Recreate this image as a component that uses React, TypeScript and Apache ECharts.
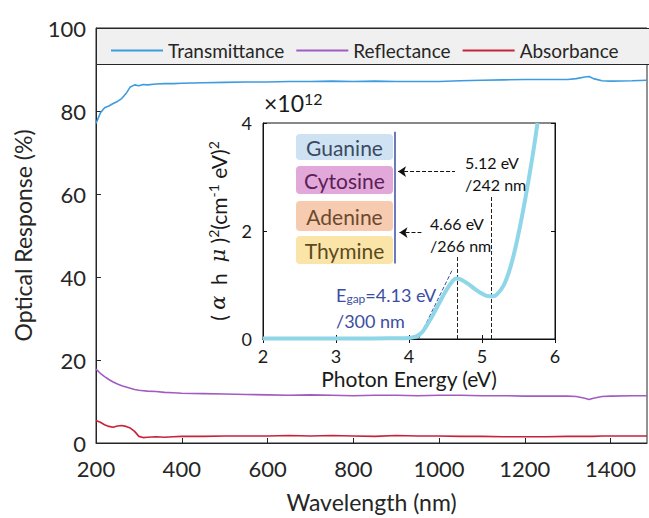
import React, { useEffect, useRef } from "react";
import * as echarts from "echarts";

// ---- Main chart data (wavelength in nm, responses in %) ----
const wavelength = [
  200, 210, 220, 230, 240, 250, 260, 270, 280, 290, 300, 310, 320, 340, 360, 380, 400,
  450, 500, 550, 600, 650, 700, 750, 800, 850, 900, 950, 1000, 1050, 1100, 1150, 1200,
  1250, 1300, 1320, 1340, 1350, 1360, 1380, 1400, 1450, 1485,
];
const transmittance = [
  77.0, 79.5, 80.8, 81.2, 81.8, 82.3, 83.0, 84.2, 85.8, 86.3, 86.1, 86.4, 86.3, 86.5, 86.6, 86.6, 86.7,
  86.8, 86.9, 87.0, 87.0, 87.1, 87.1, 87.2, 87.1, 87.2, 87.1, 87.1, 87.1, 87.3, 87.4, 87.5, 87.6,
  87.6, 87.6, 87.8, 88.2, 88.3, 87.8, 87.3, 87.2, 87.3, 87.4,
];
const reflectance = [
  17.8, 16.8, 16.0, 15.3, 14.7, 14.2, 13.8, 13.5, 13.2, 12.9, 12.7, 12.6, 12.5, 12.4, 12.2, 12.1, 12.0,
  11.9, 11.8, 11.7, 11.6, 11.5, 11.6, 11.5, 11.4, 11.5, 11.5, 11.4, 11.5, 11.5, 11.4, 11.4, 11.3,
  11.3, 11.3, 11.2, 10.8, 10.5, 10.8, 11.2, 11.3, 11.4, 11.4,
];
const absorbance = [
  5.4, 5.0, 4.4, 4.0, 3.8, 4.1, 4.2, 4.0, 3.6, 2.8, 1.6, 1.3, 1.4, 1.5, 1.4, 1.5, 1.6,
  1.6, 1.7, 1.7, 1.7, 1.8, 1.7, 1.8, 1.7, 1.6, 1.8, 1.7, 1.7, 1.6, 1.6, 1.5, 1.5,
  1.5, 1.6, 1.6, 1.6, 1.6, 1.6, 1.7, 1.7, 1.7, 1.7,
];

// ---- Inset (Tauc plot) data: photon energy (eV) vs (αhν)^2 in units of 1e12 ----
const energy = [
  2.0, 2.5, 3.0, 3.5, 3.8, 4.0, 4.05, 4.1, 4.15, 4.2, 4.3, 4.4, 4.5, 4.6, 4.65, 4.7,
  4.8, 4.9, 5.0, 5.1, 5.15, 5.2, 5.3, 5.4, 5.5, 5.6, 5.7, 5.76,
];
const tauc = [
  0.01, 0.01, 0.01, 0.01, 0.015, 0.02, 0.03, 0.05, 0.09, 0.16, 0.38, 0.63, 0.88, 1.08, 1.12, 1.11,
  1.03, 0.93, 0.84, 0.79, 0.79, 0.82, 1.0, 1.38, 1.95, 2.65, 3.45, 4.0,
];

const seriesNames = ["Transmittance", "Reflectance", "Absorbance"];
const seriesColors = ["#3d9be0", "#a15cc2", "#c8223a"];
const bases = ["Guanine", "Cytosine", "Adenine", "Thymine"];
const baseFills = ["#cfe2f3", "#e2a8da", "#f7cbb0", "#fbe4a8"];
const baseText = ["#3b4a5f", "#5b2056", "#6b4a2f", "#5a4a1e"];
const baseTops = [134, 166, 201, 236];
const baseHeights = [26, 28, 30, 28];

const FONT = "Lato";
const AX = "#262626";

export default function App() {
  const ref = useRef<HTMLDivElement>(null);
  useEffect(() => {
    if (!ref.current) return;
    const chart = echarts.init(ref.current, undefined, { renderer: "svg" });
    const pairs = (ys: number[]) => wavelength.map((w, i) => [w, ys[i]]);
    const mainData = [transmittance, reflectance, absorbance];
    const plain = (v: number) => String(v);

    const graphics: any[] = [
      {
        type: "rect",
        z: 1,
        shape: { x: 96.5, y: 28.5, width: 600, height: 36 },
        style: { fill: "#f0f0f0", stroke: AX, lineWidth: 1 },
      },
      {
        type: "text",
        z: 10,
        x: 264,
        y: 90,
        style: {
          text: "{a|×10}{b|12}",
          rich: {
            a: { fontSize: 23, fontFamily: FONT, fill: "#1a1a1a", lineHeight: 26 },
            b: { fontSize: 16, fontFamily: FONT, fill: "#1a1a1a", verticalAlign: "top" },
          },
        },
      },
    ];
    bases.forEach((b, i) => {
      graphics.push({
        type: "rect",
        z: 10,
        shape: { x: 296, y: baseTops[i], width: 97, height: baseHeights[i], r: 4 },
        style: { fill: baseFills[i] },
      });
      graphics.push({
        type: "text",
        z: 11,
        x: 344.5,
        y: baseTops[i] + baseHeights[i] / 2,
        style: {
          text: b,
          fontSize: 21,
          fontFamily: FONT,
          fill: baseText[i],
          align: "center",
          verticalAlign: "middle",
        },
      });
    });
    const ann = (text: string, x: number, y: number, size = 16, fill = "#111") => ({
      type: "text",
      z: 11,
      x,
      y,
      style: { text, fontSize: size, fontFamily: FONT, fill, verticalAlign: "middle" },
    });
    graphics.push(ann("5.12 eV", 465, 162));
    graphics.push(ann("/242 nm", 465, 184));
    graphics.push(ann("4.66 eV", 430, 223));
    graphics.push(ann("/266 nm", 430, 245));
    graphics.push({
      type: "text",
      z: 11,
      x: 336,
      y: 286,
      style: {
        text: "{a|E}{s|gap}{a|=4.13 eV}",
        rich: {
          a: { fontSize: 18, fontFamily: FONT, fill: "#3b4ea3" },
          s: { fontSize: 12, fontFamily: FONT, fill: "#3b4ea3", verticalAlign: "bottom" },
        },
      },
    });
    graphics.push(ann("/300 nm", 336, 321, 18, "#3b4ea3"));

    const dashed = (x1: number, y1: number, x2: number, y2: number, color: string, startSym = "none") => [
      { coord: [x1, y1], symbol: startSym, symbolSize: 8, lineStyle: { color, type: "dashed", width: 1 } },
      { coord: [x2, y2], symbol: "none" },
    ];

    const option: any = {
      animation: false,
      textStyle: { fontFamily: FONT },
      grid: [
        { left: 96, top: 28, right: 2, bottom: 73, show: true, borderColor: AX, borderWidth: 1 },
        { left: 263, top: 123, right: 94, bottom: 179, show: true, borderColor: "#111", borderWidth: 1, backgroundColor: "#fff", z: 3 },
      ],
      legend: {
        data: seriesNames,
        left: 106,
        top: 36,
        z: 5,
        icon: "rect",
        itemWidth: 52,
        itemHeight: 2,
        itemGap: 12,
        textStyle: { fontSize: 19, color: AX, fontFamily: FONT },
      },
      xAxis: [
        {
          gridIndex: 0,
          type: "value",
          min: 200,
          max: 1485,
          interval: 200,
          axisLine: { lineStyle: { color: AX } },
          axisTick: { inside: true, length: 5, lineStyle: { color: AX } },
          axisLabel: { fontSize: 22, color: AX, margin: 14, showMaxLabel: false, formatter: plain },
          splitLine: { show: false },
          name: "Wavelength (nm)",
          nameLocation: "middle",
          nameGap: 47,
          nameTextStyle: { fontSize: 23, color: AX },
        },
        {
          gridIndex: 1,
          type: "value",
          min: 2,
          max: 6,
          interval: 1,
          axisLine: { lineStyle: { color: "#111" } },
          axisTick: { inside: true, length: 4, lineStyle: { color: "#111" } },
          axisLabel: { fontSize: 18, color: "#1a1a1a", margin: 8, formatter: plain },
          splitLine: { show: false },
          name: "Photon Energy (eV)",
          nameLocation: "middle",
          nameGap: 29,
          nameTextStyle: { fontSize: 21, color: "#1a1a1a", lineHeight: 20 },
          z: 4,
        },
        {
          gridIndex: 1,
          type: "value",
          position: "top",
          min: 2,
          max: 6,
          interval: 1,
          axisLine: { lineStyle: { color: "#111" } },
          axisTick: { inside: true, length: 4, lineStyle: { color: "#111" } },
          axisLabel: { show: false },
          splitLine: { show: false },
          z: 4,
        },
      ],
      yAxis: [
        {
          gridIndex: 0,
          type: "value",
          min: 0,
          max: 100,
          interval: 20,
          axisLine: { show: true, lineStyle: { color: AX } },
          axisTick: { show: true, inside: true, length: 5, lineStyle: { color: AX } },
          axisLabel: { fontSize: 22, color: AX, margin: 10 },
          splitLine: { show: false },
          name: "Optical Response (%)",
          nameLocation: "middle",
          nameGap: 62,
          nameRotate: 90,
          nameTextStyle: { fontSize: 23, color: AX },
        },
        {
          gridIndex: 1,
          type: "value",
          min: 0,
          max: 4,
          interval: 2,
          axisLine: { show: true, lineStyle: { color: "#111" } },
          axisTick: { show: true, inside: true, length: 4, lineStyle: { color: "#111" } },
          axisLabel: { fontSize: 18, color: "#1a1a1a", margin: 11 },
          splitLine: { show: false },
          name: "{p|( }{g|α}{p|  h  }{g|μ}{p| )}{s|2}{p|(cm}{s|-1}{p| eV)}{s|2}",
          nameLocation: "middle",
          nameGap: 33,
          nameRotate: 90,
          nameTextStyle: {
            rich: {
              p: { fontSize: 21, color: "#1a1a1a", fontFamily: FONT, lineHeight: 24 },
              g: { fontSize: 21, color: "#1a1a1a", fontFamily: "DejaVu Serif", fontStyle: "italic", lineHeight: 24 },
              s: { fontSize: 14, color: "#1a1a1a", fontFamily: FONT, verticalAlign: "top" },
            },
          },
          z: 4,
        },
        {
          gridIndex: 1,
          type: "value",
          position: "right",
          min: 0,
          max: 4,
          interval: 2,
          axisLine: { show: true, lineStyle: { color: "#111" } },
          axisTick: { show: true, inside: true, length: 4, lineStyle: { color: "#111" } },
          axisLabel: { show: false },
          splitLine: { show: false },
          z: 4,
        },
      ],
      series: [
        ...seriesNames.map((n, i) => ({
          name: n,
          type: "line",
          xAxisIndex: 0,
          yAxisIndex: 0,
          data: pairs(mainData[i]),
          showSymbol: false,
          lineStyle: { width: 1.6, color: seriesColors[i] },
          itemStyle: { color: seriesColors[i] },
          z: 2,
        })),
        {
          name: "Tauc",
          type: "line",
          xAxisIndex: 1,
          yAxisIndex: 1,
          data: energy.map((e, i) => [e, tauc[i]]),
          smooth: 0.4,
          showSymbol: false,
          clip: true,
          lineStyle: { width: 4, color: "#8fd6e8" },
          itemStyle: { color: "#8fd6e8" },
          z: 5,
          markLine: {
            silent: true,
            animation: false,
            symbol: ["none", "none"],
            label: { show: false },
            data: [
              dashed(4.66, 0, 4.66, 1.55, "#222"),
              dashed(5.12, 0, 5.12, 2.65, "#222"),
              dashed(4.13, 0, 4.6, 1.3, "#3b4ea3"),
              dashed(3.85, 3.1, 4.63, 3.1, "#111", "arrow"),
              dashed(3.87, 1.97, 4.17, 1.97, "#111", "arrow"),
              [
                { coord: [3.8, 3.84], symbol: "none", lineStyle: { color: "#3b4ea3", type: "solid", width: 1.5 } },
                { coord: [3.8, 1.4], symbol: "none" },
              ],
            ],
          },
        },
      ],
      graphic: graphics,
    };
    chart.setOption(option);
    return () => chart.dispose();
  }, []);
  return <div ref={ref} style={{ width: 649, height: 518, position: "absolute", left: 0, top: 0 }} />;
}
